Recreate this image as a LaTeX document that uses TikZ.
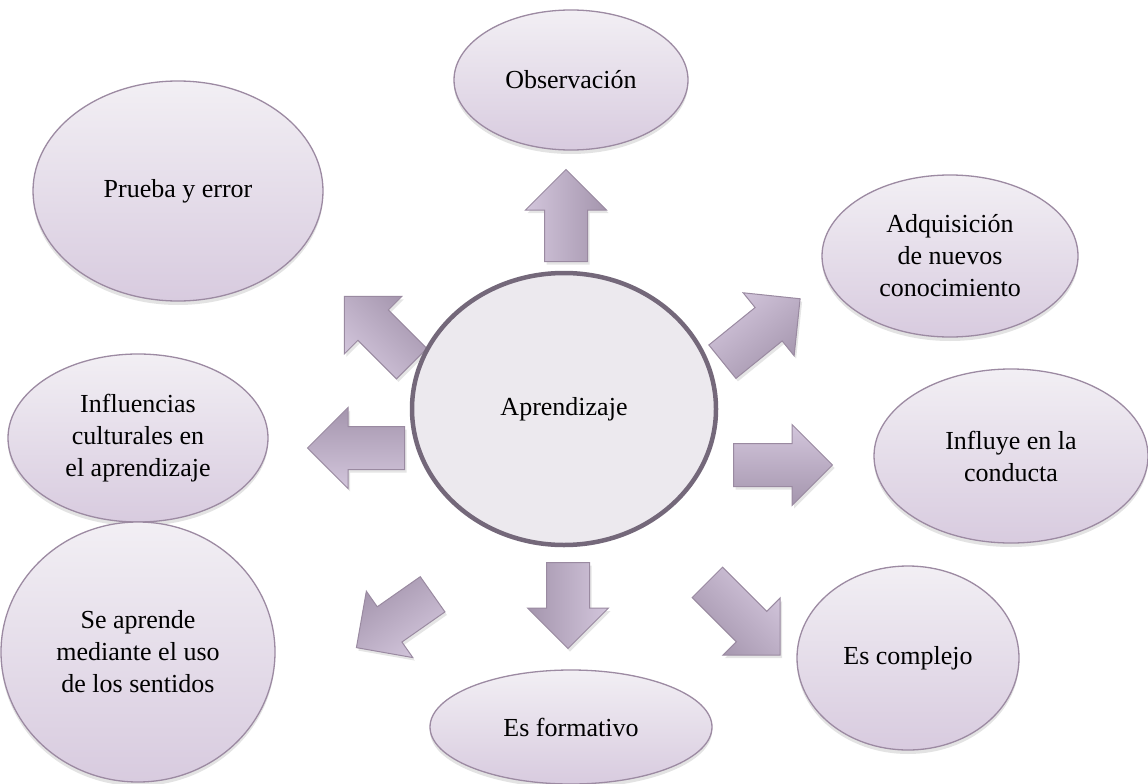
\documentclass[tikz,border=0pt]{standalone}
\usepackage{fontspec}
\setmainfont{Liberation Serif}
\usetikzlibrary{shapes.geometric,shapes.arrows,shadows}

\definecolor{bubtop}{HTML}{F2EFF4}
\definecolor{bubbot}{HTML}{D8CBDF}
\definecolor{bubline}{HTML}{9C8AA2}
\definecolor{corefill}{HTML}{ECE9EE}
\definecolor{coreline}{HTML}{74687A}
\definecolor{arrlight}{HTML}{D3C6DC}
\definecolor{arrdark}{HTML}{A495AD}
\definecolor{arrline}{HTML}{9A8AA1}

\tikzset{
  bubble/.style={ellipse, draw=bubline, line width=1.3pt, top color=bubtop,
    bottom color=bubbot, inner sep=0pt, align=center,
    drop shadow={opacity=0.22, shadow xshift=0pt, shadow yshift=-4pt}},
  core/.style={ellipse, draw=coreline, line width=4.5pt, fill=corefill,
    inner sep=0pt},
  blockarrow/.style={single arrow, anchor=tail, draw=arrline, line width=1pt,
    top color=arrlight, bottom color=arrdark, rotate=#1, shading angle=#1,
    minimum width=80pt, single arrow head extend=19pt, inner xsep=0pt,
    inner ysep=21pt,
    drop shadow={opacity=0.2, shadow xshift=2pt, shadow yshift=-3pt}},
}

\begin{document}
\begin{tikzpicture}[x=1pt, y=-1pt, font=\fontsize{26}{32}\selectfont]

  \fill[white] (0,0) rectangle (1148,784);
  \useasboundingbox (0,0) rectangle (1148,784);

  % Arrows out of the centre
  \node[blockarrow=90,   minimum height=92pt]  (a-obs)   at (566,262) {}; %
  \node[blockarrow=135,  minimum height=95pt]  (a-trial) at (412,364) {}; %
  \node[blockarrow=39,   minimum height=100pt] (a-acq)   at (722,362) {}; %
  \node[blockarrow=180,  minimum height=97pt]  (a-infl)  at (405,448) {}; %
  \node[blockarrow=0,    minimum height=99pt]  (a-cond)  at (733,465) {}; %
  \node[blockarrow=-145, minimum height=93pt]  (a-sens)  at (433,594) {}; %
  \node[blockarrow=-90,  minimum height=86pt]  (a-form)  at (568,562) {}; %
  \node[blockarrow=-45,  minimum height=103pt] (a-comp)  at (707,582) {}; %

  % Centre
  \node[core, minimum width=304pt, minimum height=272pt] (learn) at (564,409) {Aprendizaje}; %

  % Outer ideas
  \node[bubble, minimum width=234pt, minimum height=140pt] (obs)     at (571,80)  {Observación}; %
  \node[bubble, minimum width=290pt, minimum height=220pt] (trial)   at (178,191) {Prueba y error}; %
  \node[bubble, minimum width=256pt, minimum height=162pt] (acq)     at (950,256) {Adquisición\\de nuevos\\conocimiento}; %
  \node[bubble, minimum width=260pt, minimum height=168pt] (infl)    at (138,438) {Influencias\\culturales en\\el aprendizaje}; %
  \node[bubble, minimum width=274pt, minimum height=174pt] (cond)    at (1011,456) {Influye en la\\conducta}; %
  \node[bubble, minimum width=274pt, minimum height=260pt] (senses)  at (138,652) {Se aprende\\mediante el uso\\de los sentidos}; %
  \node[bubble, minimum width=282pt, minimum height=114pt] (form)    at (571,727) {Es formativo}; %
  \node[bubble, minimum width=222pt, minimum height=184pt] (complex) at (908,658) {Es complejo}; %

\end{tikzpicture}
\end{document}
